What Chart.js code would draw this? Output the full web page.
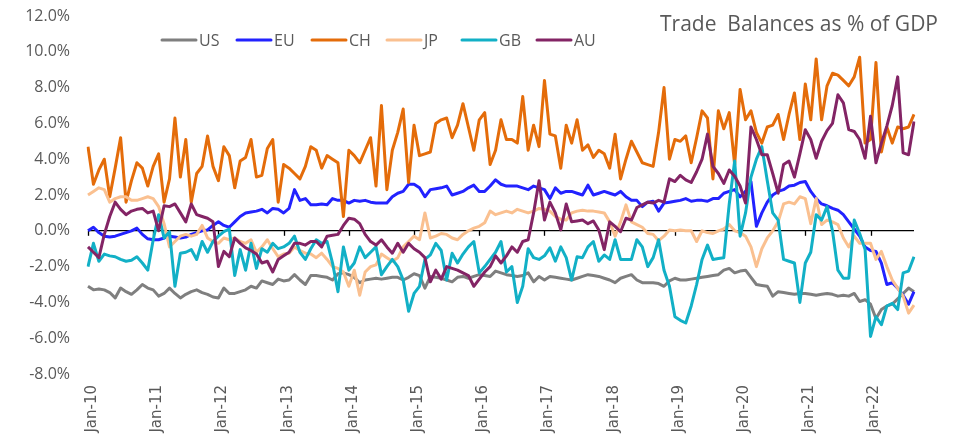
<!DOCTYPE html>
<html>
<head>
<meta charset="utf-8">
<title>Trade Balances as % of GDP</title>
<script src="https://cdn.jsdelivr.net/npm/chart.js@4.4.0/dist/chart.umd.min.js"></script>
<style>
  html, body { margin: 0; padding: 0; background: #ffffff; }
  canvas { display: block; }
</style>
</head>
<body>
<canvas id="balances-chart" width="961" height="440"></canvas>
<script>
// monthly, Jan-10 .. Sep-22
const monthNames = ['Jan', 'Feb', 'Mar', 'Apr', 'May', 'Jun', 'Jul', 'Aug', 'Sep', 'Oct', 'Nov', 'Dec'];
const years = ['10', '11', '12', '13', '14', '15', '16', '17', '18', '19', '20', '21', '22'];
const lastMonthOf22 = 9;

const yTicks = [-8, -6, -4, -2, 0, 2, 4, 6, 8, 10, 12];

const US = [
  -3.1, -3.3, -3.25, -3.3, -3.45, -3.75, -3.2, -3.4, -3.55, -3.3, -3.0, -3.2, -3.3, -3.65, -3.5, -3.2, -3.5, -3.75, -3.55, -3.4, -3.3, -3.45, -3.55, -3.7, -3.75, -3.2, -3.5,
  -3.5, -3.4, -3.3, -3.1, -3.2, -2.8, -2.9, -3.0, -2.7, -2.8, -2.75, -2.45, -2.75, -3.0, -2.5, -2.5, -2.55, -2.6, -2.75, -2.4, -2.35, -2.45, -2.6, -2.9, -2.75, -2.7,
  -2.65, -2.7, -2.65, -2.6, -2.6, -2.75, -2.6, -2.4, -2.5, -3.2, -2.55, -2.6, -2.65, -2.75, -2.85, -2.6, -2.55, -2.65, -2.55, -2.45, -2.5, -2.55, -2.25, -2.35, -2.45,
  -2.5, -2.55, -2.5, -2.35, -2.85, -2.55, -2.75, -2.55, -2.6, -2.65, -2.7, -2.75, -2.65, -2.55, -2.45, -2.5, -2.55, -2.65, -2.75, -2.9, -2.65, -2.55, -2.45, -2.75, -2.9, -2.9,
  -2.9, -2.95, -3.1, -2.8, -2.65, -2.75, -2.75, -2.7, -2.65, -2.6, -2.55, -2.5, -2.45, -2.2, -2.1, -2.35, -2.25, -2.2, -2.6, -3.0, -3.05, -3.1, -3.65, -3.4, -3.45, -3.5,
  -3.55, -3.5, -3.5, -3.55, -3.6, -3.55, -3.5, -3.55, -3.65, -3.6, -3.65, -3.5, -3.95, -3.85, -4.1, -4.9, -4.4, -4.2, -4.1, -3.8, -3.5, -3.2, -3.4
];
const EU = [
  0.0, 0.2, -0.1, -0.3, -0.35, -0.3, -0.2, -0.1, 0.0, 0.15, -0.2, -0.45, -0.5, -0.5, -0.4, -0.3, -0.35, -0.4, -0.35, -0.2, -0.1, 0.0, 0.05, 0.3, 0.5, 0.3, 0.2,
  0.5, 0.8, 1.0, 1.05, 1.1, 1.2, 1.0, 1.25, 1.2, 1.0, 1.25, 2.3, 1.7, 1.8, 1.45, 1.45, 1.5, 1.45, 1.8, 1.7, 1.7, 1.55, 1.7, 1.65, 1.7, 1.6,
  1.55, 1.55, 1.55, 1.9, 2.1, 2.2, 2.6, 2.6, 2.4, 1.9, 2.3, 2.35, 2.4, 2.5, 2.0, 2.1, 2.2, 2.4, 2.55, 2.2, 2.2, 2.5, 2.85, 2.6, 2.5,
  2.5, 2.5, 2.4, 2.3, 2.5, 2.4, 2.3, 1.8, 2.4, 2.1, 2.2, 2.2, 2.1, 2.0, 2.55, 2.0, 2.1, 2.2, 2.1, 2.0, 2.2, 1.9, 1.7, 1.7, 1.35, 1.6,
  1.65, 1.1, 1.55, 1.6, 1.65, 1.7, 1.8, 1.65, 1.7, 1.7, 1.65, 1.8, 1.8, 2.1, 2.2, 2.3, 1.9, 2.2, 2.75, 0.25, 1.0, 1.6, 2.0, 2.2, 2.3, 2.5,
  2.55, 2.7, 2.75, 2.2, 1.8, 1.5, 1.4, 1.25, 1.15, 0.9, 0.5, 0.1, -0.3, -0.9, -1.1, -1.15, -1.8, -3.0, -2.9, -3.2, -3.6, -4.1, -3.4
];
const CH = [
  4.7, 2.6, 3.4, 4.0, 1.9, 3.5, 5.2, 1.6, 2.8, 3.8, 3.5, 2.5, 3.6, 4.3, 1.6, 2.9, 6.3, 3.0, 5.1, 1.6, 3.2, 3.6, 5.3, 3.6, 2.8, 4.7, 4.2,
  2.4, 3.9, 4.1, 5.1, 3.0, 3.1, 4.6, 5.1, 1.6, 3.7, 3.5, 3.2, 2.9, 3.6, 4.7, 4.5, 3.5, 4.2, 4.0, 3.8, 0.8, 4.5, 4.2, 3.8, 4.5, 5.2,
  2.5, 7.0, 2.3, 4.5, 5.5, 6.8, 2.7, 5.9, 4.2, 4.3, 4.4, 6.0, 6.2, 6.3, 5.2, 5.9, 7.1, 5.8, 4.5, 6.2, 6.6, 3.7, 4.5, 6.2, 5.1,
  5.1, 4.9, 7.5, 4.5, 5.9, 4.7, 8.4, 5.4, 5.3, 3.5, 5.9, 4.9, 6.2, 4.5, 4.8, 4.1, 4.5, 4.3, 3.5, 5.4, 2.9, 4.0, 5.0, 4.4, 3.8, 3.7,
  3.6, 5.5, 8.0, 4.0, 5.1, 5.0, 5.3, 3.8, 5.2, 6.7, 6.3, 2.9, 6.7, 5.7, 6.6, 3.7, 7.9, 6.2, 6.7, 5.5, 4.9, 5.8, 5.9, 6.5, 5.1, 6.5,
  7.7, 5.1, 8.2, 6.2, 9.6, 6.2, 8.1, 8.8, 8.7, 8.4, 8.1, 8.6, 9.7, 4.9, 5.1, 9.4, 4.4, 5.8, 4.9, 5.8, 5.7, 5.8, 6.5
];
const JP = [
  2.0, 2.2, 2.4, 2.3, 1.6, 1.8, 1.9, 1.9, 1.7, 1.7, 1.8, 1.9, 1.8, 1.35, 0.4, -0.9, -0.6, -0.3, -0.2, -0.3, -0.2, 0.3, -0.4, -0.6, -0.7, -0.4, -0.5,
  -0.4, -0.6, -0.7, -0.5, -1.2, -0.9, -0.5, -1.0, -1.45, -1.3, -1.25, -0.9, -1.1, -1.25, -1.3, -1.5, -1.25, -1.6, -2.0, -2.1, -2.3, -3.1, -2.2, -3.6, -2.3, -2.0,
  -1.9, -1.3, -1.5, -1.7, -1.5, -0.9, -0.6, -0.3, -0.5, 1.0, -0.4, -0.3, -0.15, -0.2, -0.4, -0.5, -0.2, 0.0, 0.15, 0.25, 0.45, 1.1, 0.9, 1.0, 1.1,
  1.0, 1.2, 1.1, 1.0, 1.1, 1.25, 1.2, 1.1, 0.8, 0.65, 0.6, 1.0, 1.1, 1.15, 1.1, 1.1, 1.05, 1.0, 0.5, -0.3, 0.5, 1.45, 0.5, 0.35, 0.2, -0.15,
  -0.2, -0.55, -0.3, 0.05, 0.0, 0.05, 0.0, 0.0, -0.6, 0.0, -0.1, -0.15, 0.0, 0.1, 0.35, 0.0, -0.1, -0.3, -0.9, -2.0, -1.0, -0.4, 0.0, 0.5, 1.5, 1.6,
  1.5, 1.9, 1.8, 0.4, 1.8, 0.35, 0.6, 0.5, 0.35, -0.4, -0.9, -0.3, -0.7, -0.7, -0.7, -1.6, -1.15, -2.0, -2.75, -3.2, -3.65, -4.6, -4.15
];
const GB = [
  -2.0, -0.7, -1.7, -1.3, -1.4, -1.45, -1.6, -1.7, -1.65, -1.45, -1.8, -2.2, -0.5, 0.9, -0.4, -0.05, -3.1, -1.25, -1.2, -1.05, -1.6, -0.6, -1.2, -0.6, -0.3, -0.05, 0.1,
  -2.5, -1.05, -2.2, -0.7, -2.1, -1.0, -1.2, -0.7, -1.0, -0.9, -0.7, -0.3, -1.2, -1.6, -1.0, -0.5, -0.7, -0.6, -1.8, -3.4, -0.9, -2.2, -1.8, -0.9, -1.5, -1.2,
  -0.9, -2.45, -2.0, -1.6, -2.0, -2.75, -4.5, -3.5, -3.1, -1.6, -1.35, -0.7, -1.1, -2.75, -1.25, -1.8, -1.3, -0.9, -0.6, -2.35, -2.0, -1.6, -1.2, -0.6, -2.3,
  -2.0, -4.0, -3.1, -1.0, -1.5, -1.6, -1.4, -0.95, -1.7, -0.9, -1.5, -2.75, -1.45, -1.5, -0.9, -0.6, -1.7, -1.35, -1.6, -0.5, -1.6, -1.6, -1.6, -0.5, -0.9, -2.0,
  -1.5, -0.5, -2.2, -3.1, -4.8, -5.0, -5.15, -4.2, -3.0, -1.6, -0.8, -1.6, -1.55, -1.5, 1.5, 3.9, -0.3, 1.0, 3.0, 4.0, 4.7, 2.8, 1.0, 0.6, -1.6, -1.7,
  -1.8, -4.0, -1.8, -1.2, 0.9, 0.6, 1.35, 0.0, -2.2, -2.65, -2.65, 0.6, -0.15, -1.05, -5.9, -4.8, -5.25, -4.2, -4.05, -4.4, -2.35, -2.25, -1.45
];
const AU = [
  -0.9, -1.2, -1.5, -0.2, 0.8, 1.6, 1.2, 0.9, 1.1, 1.2, 1.25, 1.0, 1.1, 0.0, 1.4, 1.35, 1.5, 1.0, 0.5, 1.5, 0.9, 0.8, 0.7, 0.5, -2.0, -1.15, -1.45,
  -0.4, -0.7, -0.95, -1.1, -1.3, -1.8, -1.7, -2.3, -1.6, -1.4, -1.2, -0.7, -0.7, -0.8, -0.6, -0.6, -0.9, -0.3, -0.25, -0.2, 0.3, 0.7, 0.65, 0.4, -0.2, -0.6,
  -0.8, -0.5, -0.9, -1.25, -0.7, -1.2, -0.7, -1.0, -1.2, -1.5, -2.85, -2.2, -2.7, -2.0, -2.1, -2.2, -2.35, -2.5, -3.1, -2.7, -2.3, -2.0, -1.4, -1.8, -1.4,
  -0.9, -1.2, -0.6, -0.5, 1.0, 2.8, 0.6, 1.6, 1.0, 0.05, 1.5, 0.5, 0.55, 0.6, 0.4, 0.55, 0.05, -1.05, 0.5, 0.25, -0.05, 0.7, 0.6, 1.3, 1.45, 1.6,
  1.55, 1.7, 1.6, 2.9, 2.75, 3.1, 2.85, 2.7, 3.3, 4.0, 5.4, 3.6, 3.2, 2.65, 3.4, 3.05, 2.5, 1.55, 5.8, 5.1, 4.25, 4.25, 3.2, 2.1, 3.7, 3.9,
  3.0, 4.3, 5.65, 5.1, 4.05, 5.0, 5.6, 6.0, 7.6, 7.15, 5.65, 5.55, 5.1, 4.05, 6.4, 3.8, 4.9, 5.85, 7.0, 8.6, 4.35, 4.25, 6.1
];

const seriesNames = ['US', 'EU', 'CH', 'JP', 'GB', 'AU'];
const seriesData = [US, EU, CH, JP, GB, AU];
const seriesColors = ['#7f7f7f', '#2222ff', '#e46c0a', '#fac090', '#12b0c6', '#832465'];

const labels = [];
years.forEach(function (yy) {
  monthNames.forEach(function (mm, i) {
    if (yy === '22' && i >= lastMonthOf22) return;
    labels.push(mm + '-' + yy);
  });
});

const textGrey = '#595959';

// title, legend and the small January marks on the zero line
const decorations = {
  id: 'decorations',
  beforeDatasetsDraw(chart) {
    const ctx = chart.ctx;
    const x = chart.scales.x, y = chart.scales.y;
    const y0 = y.getPixelForValue(0);
    ctx.save();
    ctx.strokeStyle = '#000000';
    ctx.lineWidth = 1.3;
    labels.forEach(function (lab, i) {
      if (i % 12 !== 0) return;
      const px = Math.round(x.getPixelForValue(i)) + 0.5;
      ctx.beginPath();
      ctx.moveTo(px, y0);
      ctx.lineTo(px, y0 + 5);
      ctx.stroke();
    });
    ctx.restore();
  },
  afterDraw(chart) {
    const ctx = chart.ctx;
    ctx.save();
    ctx.fillStyle = textGrey;
    ctx.font = '21px "Open Sans"';
    ctx.textAlign = 'right';
    ctx.textBaseline = 'middle';
    ctx.fillText('Trade  Balances as % of GDP', 938, 25);

    ctx.font = '16px "Open Sans"';
    ctx.textAlign = 'left';
    chart.data.datasets.forEach(function (ds, i) {
      const left = 162 + i * 75;
      ctx.strokeStyle = ds.borderColor;
      ctx.lineWidth = 3;
      ctx.lineCap = 'round';
      ctx.beginPath();
      ctx.moveTo(left, 40);
      ctx.lineTo(left + 34, 40);
      ctx.stroke();
      ctx.fillStyle = textGrey;
      ctx.fillText(ds.label, left + 37, 41);
    });
    ctx.restore();
  }
};

document.addEventListener('DOMContentLoaded', function () {
  const ctx = document.getElementById('balances-chart').getContext('2d');
  new Chart(ctx, {
    type: 'line',
    data: {
      labels: labels,
      datasets: seriesNames.map(function (name, i) {
        return {
          label: name,
          data: seriesData[i],
          borderColor: seriesColors[i],
          backgroundColor: seriesColors[i],
          borderWidth: 3,
          pointRadius: 0,
          tension: 0,
          borderJoinStyle: 'round',
          order: seriesNames.length - i
        };
      })
    },
    options: {
      responsive: false,
      animation: false,
      devicePixelRatio: 1,
      layout: { padding: { top: 16, right: 47, left: 0, bottom: 0 } },
      plugins: {
        legend: { display: false },
        tooltip: { enabled: false }
      },
      scales: {
        x: {
          type: 'category',
          offset: false,
          grid: { display: false, drawTicks: false },
          border: { display: false },
          ticks: {
            autoSkip: false,
            minRotation: 90,
            maxRotation: 90,
            padding: 11,
            labelOffset: 4,
            color: textGrey,
            font: { family: 'DejaVu Sans', size: 15 },
            callback: function (value, index) {
              return index % 12 === 0 ? this.getLabelForValue(value) : null;
            }
          },
          afterFit: function (scale) { scale.height = 66; }
        },
        y: {
          min: yTicks[0],
          max: yTicks[yTicks.length - 1],
          afterBuildTicks: function (scale) {
            scale.ticks = yTicks.map(function (v) { return { value: v }; });
          },
          grid: {
            drawTicks: true,
            tickLength: 18,
            tickColor: 'rgba(0,0,0,0)',
            lineWidth: 1.3,
            color: function (c) { return c.tick && c.tick.value === 0 ? '#000000' : 'rgba(0,0,0,0)'; }
          },
          border: { display: false },
          ticks: {
            padding: 0,
            color: textGrey,
            font: { family: 'Open Sans', size: 16 },
            callback: function (v) { return v.toFixed(1) + '%'; }
          },
          afterFit: function (scale) { scale.width = 88; }
        }
      }
    },
    plugins: [decorations]
  });
});
</script>
</body>
</html>
